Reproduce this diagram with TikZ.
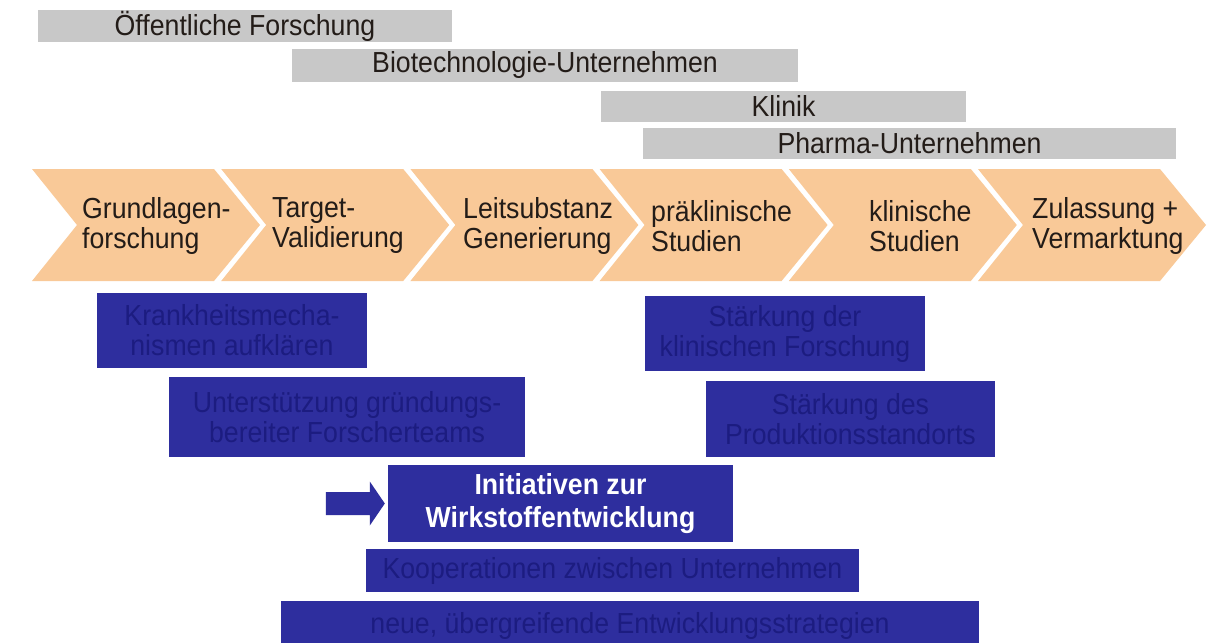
\documentclass[tikz,border=0pt]{standalone}
\usepackage{fontspec}
\setmainfont{Liberation Sans}[FakeStretch=0.92]
\definecolor{chevfill}{RGB}{249,201,152}
\definecolor{greyfill}{RGB}{200,200,200}
\definecolor{boxblue}{RGB}{46,46,158}
\definecolor{boxtext}{RGB}{28,28,128}
\definecolor{darktext}{RGB}{35,28,24}
\begin{document}
\begin{tikzpicture}[x=1pt,y=-1pt,
  txt/.style={font=\fontsize{29}{30}\selectfont},
  greybar/.style={txt, fill=greyfill, text=darktext, inner sep=0pt, align=center},
  chevtext/.style={txt, text=darktext, inner sep=0pt, align=left, anchor=west},
  bluebox/.style={txt, fill=boxblue, text=boxtext, inner sep=0pt, align=center},
  hibox/.style={bluebox, text=white, font=\fontsize{29}{33}\selectfont\bfseries},
  chev/.style={fill=chevfill}
]
\useasboundingbox[fill=white] (0,0) rectangle (1209,642);

% grey actor bars
\node[greybar, minimum width=414pt, minimum height=32pt] (oef) at (245,26) {Öffentliche Forschung};
\node[greybar, minimum width=506pt, minimum height=33pt] (bio) at (545,65.5) {Biotechnologie-Unternehmen};
\node[greybar, minimum width=365pt, minimum height=31pt] (kli) at (783.5,106) {Klinik};
\node[greybar, minimum width=533pt, minimum height=31pt] (pha) at (909.5,143.5) {Pharma-Unternehmen};

% chevrons
\foreach \i in {0,...,5} {
  \pgfmathsetmacro\xl{32+189.2*\i}
  \fill[chev] (\xl,169) -- (\xl+182,169) -- (\xl+228,225) -- (\xl+182,281)
     -- (\xl,281) -- (\xl+45,225) -- cycle;
}
\node[chevtext] (c1) at (82,226) {Grundlagen-\\forschung};
\node[chevtext] (c2) at (272,226) {Target-\\Validierung};
\node[chevtext] (c3) at (463,226) {Leitsubstanz\\Generierung};
\node[chevtext] (c4) at (651,226) {präklinische\\Studien};
\node[chevtext] (c5) at (869,226) {klinische\\Studien};
\node[chevtext] (c6) at (1032,226) {Zulassung +\\Vermarktung};

% blue boxes
\node[bluebox, minimum width=270pt, minimum height=75pt] (krank) at (232,330.5) {Krankheitsmecha-\\nismen aufklären};
\node[bluebox, minimum width=356pt, minimum height=80pt] (unter) at (347,417) {Unterstützung gründungs-\\bereiter Forscherteams};
\node[bluebox, minimum width=280pt, minimum height=75pt] (stk) at (785,333.5) {Stärkung der\\klinischen Forschung};
\node[bluebox, minimum width=289pt, minimum height=76pt] (stp) at (850.5,419) {Stärkung des\\Produktionsstandorts};
\node[hibox, minimum width=345pt, minimum height=77pt] (init) at (560.5,503.5) {Initiativen zur\\Wirkstoffentwicklung};
\node[bluebox, minimum width=493pt, minimum height=43pt] (koop) at (612.5,570.5) {Kooperationen zwischen Unternehmen};
\node[bluebox, minimum width=698pt, minimum height=50pt] (neue) at (630,626) {neue, übergreifende Entwicklungsstrategien};

% block arrow pointing at the highlighted initiative
\coordinate (tip) at ([xshift=-3pt]init.west);
\fill[boxblue] ([xshift=-59pt,yshift=-11.5pt]tip) -- ([xshift=-15pt,yshift=-11.5pt]tip)
  -- ([xshift=-15pt,yshift=-22pt]tip) -- (tip) -- ([xshift=-15pt,yshift=22pt]tip)
  -- ([xshift=-15pt,yshift=11.5pt]tip) -- ([xshift=-59pt,yshift=11.5pt]tip) -- cycle;
\end{tikzpicture}
\end{document}
